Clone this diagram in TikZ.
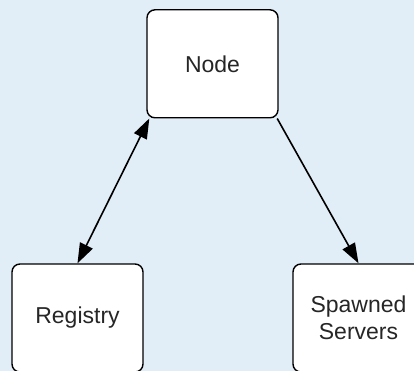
\documentclass[tikz,border=0pt]{standalone}
\usepackage{fontspec}
\setmainfont{Liberation Sans}
\usetikzlibrary{arrows.meta,calc}
\definecolor{bgblue}{HTML}{E1EDF7}
\tikzset{
  x=1pt, y=-1pt,
  box/.style={draw=black, fill=white, line width=1.4pt, rounded corners=8pt,
    minimum width=131pt, minimum height=108pt, inner sep=0pt,
    align=center, font=\fontsize{23}{26.5}\selectfont, text=black!85},
  tip/.style={Triangle[length=20pt,width=14pt]},
  link/.style={line width=1.6pt, -{Triangle[length=20pt,width=14pt]}},
  biglink/.style={line width=1.6pt, {Triangle[length=20pt,width=14pt]}-{Triangle[length=20pt,width=14pt]}}
}
\begin{document}
\begin{tikzpicture}
  % canvas
  \fill[bgblue] (0,0) rectangle (414,371);
  \useasboundingbox (0,0) rectangle (414,371);

  % boxes
  \node[box] (node) at (212.5,63.8) {Node};
  \node[box] (reg) at (77.5,318) {Registry};
  \node[box] (spawn) at (358.5,318) {Spawned\\Servers};

  % connectors
  \draw[biglink] ($(node.south west)+(3,0)$) -- (reg.north);
  \draw[link] ($(node.south east)+(-1.5,0)$) -- (spawn.north);
\end{tikzpicture}
\end{document}
